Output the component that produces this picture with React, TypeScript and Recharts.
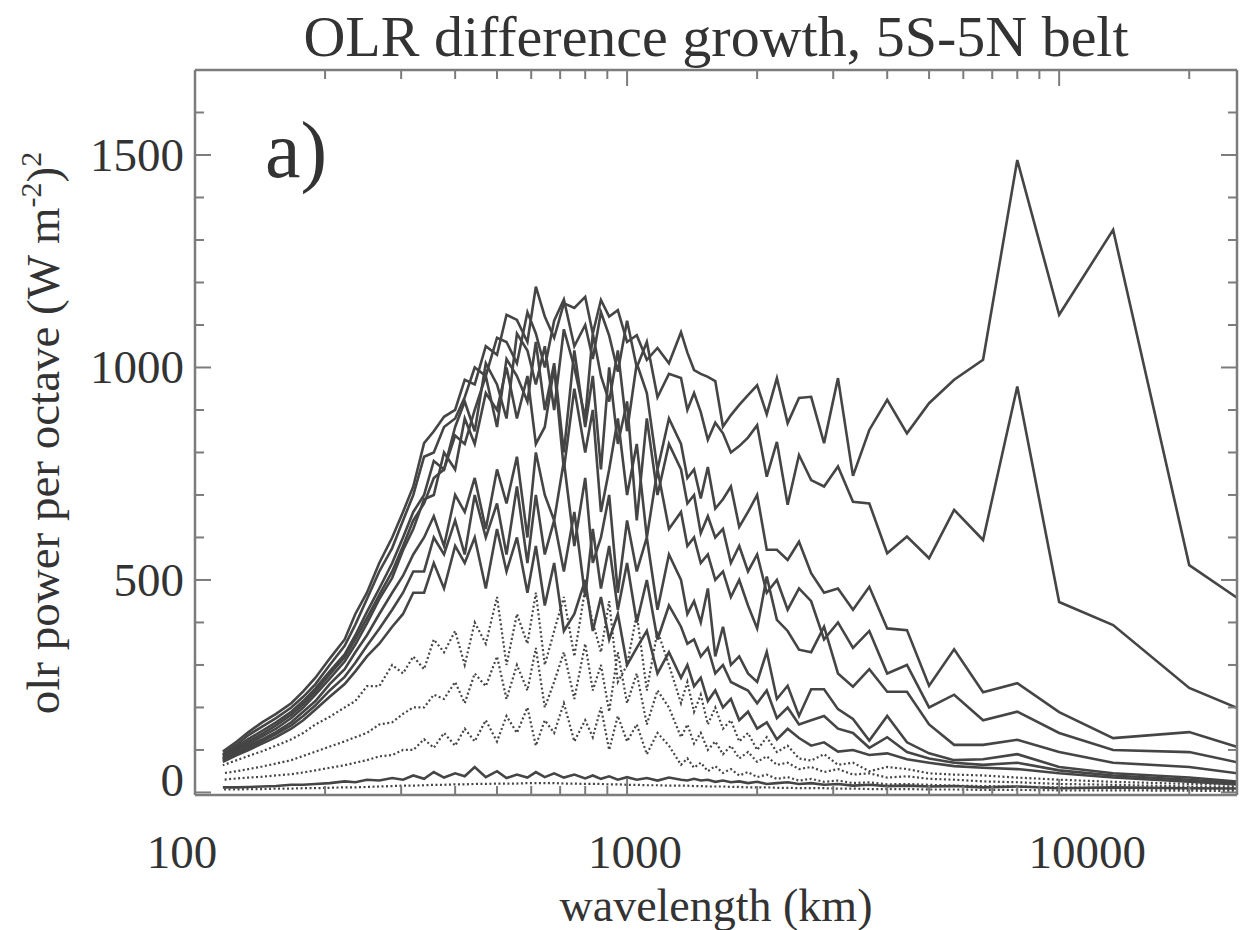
import { LineChart, Line, XAxis, YAxis } from 'recharts';

// wavelengths (km) of the spectral points, long waves first
const wavelengthKm = [
  40000, 20000, 13333, 10000, 8000, 6667, 5714, 5000, 4444, 4000,
  3636, 3333, 3077, 2857, 2667, 2500, 2353, 2222, 2105, 2000,
  1905, 1818, 1739, 1667, 1600, 1538, 1481, 1429, 1379, 1333,
  1250, 1176, 1111, 1053, 1000, 952, 909, 870, 833, 800,
  755, 714, 678, 645, 615, 588, 556, 526, 500, 471,
  444, 421, 400, 377, 357, 339, 320, 303, 286, 267,
  250, 235, 222, 205, 190, 178, 167, 154, 143, 133,
  125, 116,
];

// solid curves, latest (largest) first
const curveA = [
  326, 535, 1324, 1124, 1488, 1018, 971, 916, 845, 924,
  853, 745, 975, 822, 931, 928, 869, 975, 890, 958,
  935, 912, 888, 861, 968, 978, 985, 994, 1035, 1083,
  1010, 1046, 1018, 1076, 1060, 1135, 1120, 1159, 1080, 1166,
  1140, 1151, 1070, 1120, 1190, 1060, 1112, 1124, 1030, 1050,
  960, 971, 900, 884, 850, 822, 720, 660, 600, 540,
  470, 420, 360, 315, 270, 238, 210, 185, 165, 142,
  120, 96,
];
const curveB = [
  118, 246, 394, 448, 955, 594, 665, 551, 602, 563,
  680, 684, 767, 720, 735, 794, 677, 825, 743, 864,
  835, 815, 800, 845, 870, 830, 895, 940, 900, 975,
  985, 930, 1060, 1000, 1110, 990, 1075, 1130, 1020, 1100,
  1050, 1160, 1110, 1000, 1080, 1130, 1010, 1060, 1070, 980,
  1000, 930, 880, 860, 800, 790, 700, 640, 575, 520,
  455, 395, 345, 300, 255, 225, 200, 175, 155, 135,
  113, 90,
];
const curveC = [
  47, 142, 128, 189, 257, 236, 337, 251, 382, 386,
  484, 430, 480, 470, 516, 590, 547, 571, 571, 700,
  660, 625, 720, 690, 668, 766, 692, 760, 740, 820,
  880, 760, 940, 1010, 850, 1040, 920, 980, 1080, 880,
  1000, 1090, 900, 1050, 960, 1040, 1080, 880, 960, 1010,
  850, 920, 860, 760, 780, 700, 660, 600, 540, 480,
  425, 370, 325, 285, 245, 215, 190, 165, 145, 126,
  108, 87,
];
const curveG = [
  30, 95, 100, 140, 190, 170, 230, 200, 300, 280,
  380, 340, 400, 360, 450, 480, 430, 500, 470, 560,
  520, 580, 540, 620, 600, 650, 610, 700, 680, 760,
  820, 700, 880, 640, 920, 820, 1000, 760, 980, 860,
  1040, 800, 1010, 900, 1060, 920, 980, 1020, 860, 980,
  900, 820, 840, 760, 740, 680, 640, 580, 520, 465,
  410, 360, 318, 278, 238, 208, 183, 158, 138, 120,
  103, 84,
];
const curveD = [
  20, 60, 70, 95, 124, 112, 112, 160, 237, 237,
  290, 249, 280, 390, 330, 336, 380, 406, 508, 386,
  440, 500, 460, 520, 500, 560, 540, 600, 580, 660,
  620, 760, 600, 820, 700, 880, 760, 660, 900, 800,
  950, 760, 1000, 860, 820, 980, 880, 1000, 900, 940,
  820, 880, 760, 800, 700, 690, 620, 570, 505, 455,
  398, 348, 308, 268, 230, 200, 175, 150, 132, 115,
  100, 80,
];
const curveE = [
  10, 35, 45, 60, 90, 78, 76, 92, 118, 180,
  122, 173, 196, 243, 243, 180, 251, 220, 331, 260,
  280, 320, 300, 390, 320, 480, 400, 450, 420, 500,
  560, 430, 600, 520, 640, 470, 700, 600, 540, 740,
  580, 780, 640, 700, 800, 600, 790, 680, 760, 620,
  740, 660, 700, 580, 650, 600, 560, 510, 470, 420,
  370, 330, 290, 255, 215, 190, 165, 142, 125, 110,
  96, 78,
];
const curveH = [
  9, 30, 40, 52, 70, 65, 70, 80, 95, 130,
  105, 140, 150, 180, 170, 160, 200, 175, 240, 210,
  240, 250, 260, 300, 280, 340, 320, 360, 350, 390,
  440, 360, 500, 400, 540, 430, 580, 480, 620, 460,
  660, 520, 640, 560, 700, 540, 720, 560, 680, 600,
  700, 560, 640, 560, 600, 520, 520, 470, 430, 385,
  345, 305, 272, 240, 205, 180, 158, 137, 120, 105,
  92, 75,
];
const curveF = [
  8, 25, 35, 45, 55, 58, 62, 70, 78, 92,
  88, 100, 96, 118, 110, 128, 150, 125, 165, 150,
  190, 170, 220, 200, 240, 215, 270, 250, 300, 270,
  330, 280, 380, 340, 300, 420, 360, 460, 380, 500,
  420, 380, 540, 440, 580, 470, 600, 520, 620, 480,
  600, 540, 580, 480, 540, 470, 470, 420, 390, 350,
  320, 285, 255, 225, 195, 170, 150, 130, 115, 100,
  88, 72,
];
const curveZero = [
  8, 10, 12, 10, 14, 12, 15, 14, 16, 15,
  18, 16, 20, 18, 22, 20, 24, 22, 20, 25,
  22, 26, 24, 28, 25, 30, 28, 32, 28, 30,
  35, 28, 34, 30, 36, 30, 38, 32, 40, 33,
  42, 35, 45, 36, 48, 35, 42, 34, 50, 36,
  60, 38, 45, 35, 48, 32, 40, 30, 34, 28,
  30, 24, 26, 22, 20, 18, 18, 15, 14, 13,
  12, 12,
];

// dotted curves, early times
const dotted3 = [
  15, 20, 25, 30, 35, 40, 42, 45, 55, 60,
  50, 70, 65, 90, 75, 80, 110, 95, 130, 100,
  140, 120, 170, 150, 200, 160, 230, 190, 260, 210,
  300, 380, 240, 420, 300, 260, 450, 330, 400, 480,
  320, 460, 380, 300, 470, 350, 420, 300, 460, 350,
  400, 300, 380, 330, 360, 290, 320, 280, 300, 250,
  250, 215, 200, 178, 160, 140, 125, 110, 97, 86,
  76, 64,
];
const dotted2 = [
  10, 14, 18, 20, 24, 26, 30, 32, 38, 35,
  45, 42, 55, 48, 60, 55, 70, 65, 85, 72,
  95, 80, 110, 90, 120, 100, 140, 115, 160, 130,
  200, 240, 160, 280, 210, 330, 190, 300, 240, 350,
  220, 330, 260, 200, 340, 240, 300, 220, 320, 250,
  280, 210, 260, 220, 230, 200, 200, 185, 165, 160,
  140, 130, 120, 108, 96, 86, 76, 68, 61, 55,
  50, 45,
];
const dotted1 = [
  6, 8, 10, 12, 14, 15, 16, 18, 20, 19,
  24, 22, 28, 25, 32, 28, 36, 32, 42, 36,
  48, 40, 55, 46, 62, 50, 70, 58, 80, 65,
  110, 140, 90, 160, 120, 180, 100, 200, 130, 170,
  120, 210, 140, 170, 110, 200, 140, 180, 120, 170,
  120, 150, 110, 140, 105, 125, 100, 100, 88, 85,
  76, 70, 64, 58, 52, 47, 43, 40, 37, 35,
  33, 30,
];
const dottedZero = [
  3, 4, 5, 5, 6, 6, 7, 7, 8, 8,
  8, 9, 9, 10, 10, 10, 11, 11, 12, 12,
  12, 13, 13, 14, 14, 14, 15, 15, 16, 16,
  16, 17, 17, 18, 18, 19, 19, 20, 20, 20,
  21, 21, 22, 22, 22, 22, 21, 21, 21, 20,
  20, 19, 19, 18, 18, 17, 16, 16, 15, 14,
  13, 12, 12, 11, 10, 10, 9, 9, 8, 8,
  7, 7,
];

const xMajor = [100, 1000, 10000];
const xMinor = [200, 300, 400, 500, 600, 700, 800, 900, 2000, 3000, 4000, 5000, 6000, 7000, 8000, 9000, 20000];
const yMajor = [0, 500, 1000, 1500];
const yMinor = [100, 200, 300, 400, 600, 700, 800, 900, 1100, 1200, 1300, 1400, 1600];

const series = [
  { key: 'a', values: curveA, dotted: false },
  { key: 'b', values: curveB, dotted: false },
  { key: 'c', values: curveC, dotted: false },
  { key: 'g', values: curveG, dotted: false },
  { key: 'd', values: curveD, dotted: false },
  { key: 'e', values: curveE, dotted: false },
  { key: 'h', values: curveH, dotted: false },
  { key: 'f', values: curveF, dotted: false },
  { key: 'p3', values: dotted3, dotted: true },
  { key: 'p2', values: dotted2, dotted: true },
  { key: 'p1', values: dotted1, dotted: true },
  { key: 'z', values: curveZero, dotted: false },
  { key: 'zd', values: dottedZero, dotted: true },
];

const data = wavelengthKm.map((wl, i) => {
  const row: Record<string, number> = { wl };
  series.forEach((s) => {
    row[s.key] = s.values[i];
  });
  return row;
});

const FONT = '"Liberation Serif", "Times New Roman", serif';
const TEXT = '#333';
const FRAME = '#7c7c7c';
const LINE = '#454545';

const xDomain = [100, 25800];
const yDomain = [-6, 1700];

const tickFont = { fontSize: 47, fontFamily: FONT, fill: TEXT };
const tickStroke = { stroke: FRAME, strokeWidth: 2 };

// the printed labels sit a little off their ticks in the original figure
const xLabelShift: Record<number, number> = { 100: -13, 1000: 8, 10000: 28 };

function XTick(props: any) {
  const { x, y, payload } = props;
  return (
    <text x={x + (xLabelShift[payload.value] ?? 0)} y={y} dy={33} textAnchor="middle" {...tickFont}>
      {payload.value}
    </text>
  );
}

function YTick(props: any) {
  const { x, y, payload } = props;
  return (
    <text x={x} y={y} dy={payload.value === 0 ? 4 : 16} textAnchor="end" {...tickFont}>
      {payload.value}
    </text>
  );
}

// frame ticks only: draw the tick line, no label
function NoLabel() {
  return <g />;
}

export default function App() {
  const xCommon = {
    type: 'number' as const,
    dataKey: 'wl',
    scale: 'log' as const,
    domain: xDomain,
    allowDataOverflow: true,
  };
  const yCommon = {
    type: 'number' as const,
    domain: yDomain,
    allowDataOverflow: true,
  };
  return (
    <div style={{ position: 'absolute', left: 0, top: 0, width: 1243, height: 930, background: '#fff' }}>
      <LineChart width={1243} height={930} data={data} margin={{ top: 70, right: 6, bottom: 75, left: 135 }}>
        {/* inward frame ticks first, so they sit on the plot edges */}
        <XAxis {...xCommon} xAxisId="bMaj" mirror height={1} ticks={xMajor} interval={0} tick={NoLabel} tickSize={16} tickLine={tickStroke} axisLine={false} />
        <XAxis {...xCommon} xAxisId="bMin" mirror height={1} ticks={xMinor} interval={0} tick={NoLabel} tickSize={8} tickLine={tickStroke} axisLine={false} />
        <XAxis {...xCommon} xAxisId="tMaj" orientation="top" mirror height={1} ticks={xMajor} interval={0} tick={NoLabel} tickSize={16} tickLine={tickStroke} axisLine={{ stroke: FRAME, strokeWidth: 2.5 }} />
        <XAxis {...xCommon} xAxisId="tMin" orientation="top" mirror height={1} ticks={xMinor} interval={0} tick={NoLabel} tickSize={8} tickLine={tickStroke} axisLine={false} />
        <YAxis {...yCommon} yAxisId="lMaj" mirror width={1} ticks={yMajor} interval={0} tick={NoLabel} tickSize={16} tickLine={tickStroke} axisLine={false} />
        <YAxis {...yCommon} yAxisId="lMin" mirror width={1} ticks={yMinor} interval={0} tick={NoLabel} tickSize={8} tickLine={tickStroke} axisLine={false} />
        <YAxis {...yCommon} yAxisId="rMaj" orientation="right" mirror width={1} ticks={yMajor} interval={0} tick={NoLabel} tickSize={16} tickLine={tickStroke} axisLine={{ stroke: FRAME, strokeWidth: 2.5 }} />
        <YAxis {...yCommon} yAxisId="rMin" orientation="right" mirror width={1} ticks={yMinor} interval={0} tick={NoLabel} tickSize={8} tickLine={tickStroke} axisLine={false} />
        <XAxis
          {...xCommon}
          xAxisId="main"
          ticks={xMajor}
          interval={0}
          height={60}
          tickSize={0}
          tickMargin={40}
          tick={<XTick />}
          axisLine={{ stroke: FRAME, strokeWidth: 2.5 }}
        />
        <YAxis
          {...yCommon}
          yAxisId="main"
          ticks={yMajor}
          interval={0}
          width={60}
          tickSize={0}
          tickMargin={11}
          tick={<YTick />}
          axisLine={{ stroke: FRAME, strokeWidth: 2.5 }}
        />
        {series.map((s) => (
          <Line
            key={s.key}
            xAxisId="main"
            yAxisId="main"
            type="linear"
            dataKey={s.key}
            stroke={LINE}
            strokeWidth={s.dotted ? 2.2 : 2.6}
            strokeDasharray={s.dotted ? '2 2.5' : undefined}
            dot={false}
            activeDot={false}
            isAnimationActive={false}
          />
        ))}
      </LineChart>
      <svg
        width={1243}
        height={930}
        style={{ position: 'absolute', left: 0, top: 0, pointerEvents: 'none' }}
        fontFamily={FONT}
        fill={TEXT}
      >
        <text x={716} y={56} fontSize={58} textAnchor="middle">
          OLR difference growth, 5S-5N belt
        </text>
        <text x={265} y={177} fontSize={80}>
          a)
        </text>
        <text x={716} y={921} fontSize={46} textAnchor="middle">
          wavelength (km)
        </text>
        <text transform="translate(59, 433) rotate(-90)" fontSize={47} textAnchor="middle">
          olr power per octave (W m
          <tspan dy={-18} fontSize={30}>-2</tspan>
          <tspan dy={18}>)</tspan>
          <tspan dy={-18} fontSize={30}>2</tspan>
        </text>
      </svg>
    </div>
  );
}
